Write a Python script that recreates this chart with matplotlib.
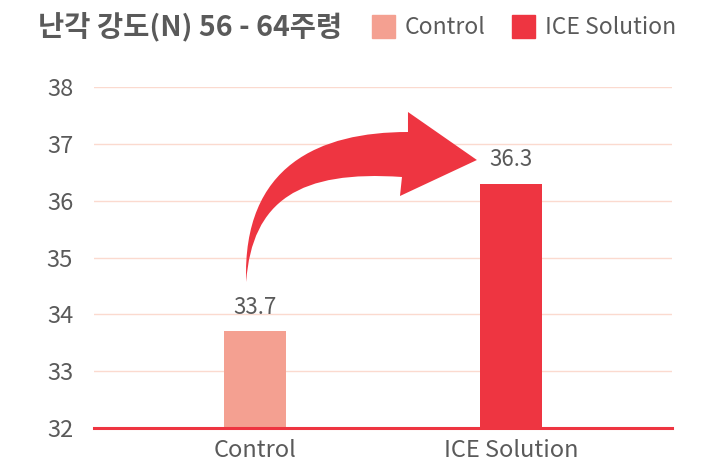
import matplotlib
matplotlib.use('Agg')
import matplotlib.pyplot as plt
from matplotlib.path import Path
from matplotlib.patches import PathPatch, Rectangle

plt.rcParams['font.family'] = ['Noto Sans CJK KR', 'DejaVu Sans']

# data
groups = ['Control', 'ICE Solution']
values = [33.7, 36.3]
y_ticks = [32, 33, 34, 35, 36, 37, 38]
title = '난각 강도(N) 56 - 64주령'

bar_colors = ['#F4A091', '#EE3541']
text_color = '#5a5a5a'
grid_color = '#FBDACF'

fig = plt.figure(figsize=(7.03, 4.65), dpi=100)
ax = fig.add_axes([94 / 703, 1 - 428 / 465, 578 / 703, 341 / 465])

x = list(range(len(groups)))
ax.bar(x, [v - y_ticks[0] for v in values], bottom=y_ticks[0], width=0.24,
       color=bar_colors, zorder=3)
for xi, v in zip(x, values):
    ax.text(xi, v + 0.22, f'{v}', ha='center', va='bottom',
            fontsize=16, color=text_color, zorder=4)

ax.set_xlim(-0.63, 1.63)
ax.set_ylim(y_ticks[0], y_ticks[-1])
ax.set_yticks(y_ticks)
ax.set_xticks(x)
ax.set_xticklabels(groups)
ax.tick_params(axis='both', length=0, labelsize=17, colors=text_color)
ax.tick_params(axis='y', pad=15)
ax.tick_params(axis='x', pad=8)
for s in ax.spines.values():
    s.set_visible(False)
ax.grid(axis='y', color=grid_color, linewidth=1, zorder=0)
ax.axhline(y_ticks[0], color=bar_colors[1], linewidth=2.2, zorder=5, clip_on=False)

# curved arrow from control to ICE (pixel layout converted to data units)
def px(p, q):
    return ((p - 255) / 256, 38 - (q - 87) / (341 / 6))

verts = [px(246, 282),
         px(242, 165), px(320, 132), px(408, 132),
         px(408, 112), px(477, 160), px(400, 196), px(402, 177),
         px(300, 170), px(252, 200), px(246, 282),
         px(246, 282)]
codes = [Path.MOVETO,
         Path.CURVE4, Path.CURVE4, Path.CURVE4,
         Path.LINETO, Path.LINETO, Path.LINETO, Path.LINETO,
         Path.CURVE4, Path.CURVE4, Path.CURVE4,
         Path.CLOSEPOLY]
ax.add_patch(PathPatch(Path(verts, codes), facecolor=bar_colors[1],
                       edgecolor='none', zorder=4))

# title and legend
fig.text(38 / 703, 1 - 27 / 465, title, fontsize=20.5, fontweight='bold',
         color=text_color, va='center', ha='left')
legend_x = [372, 512]
for lx, g, c in zip(legend_x, groups, bar_colors):
    fig.patches.append(Rectangle((lx / 703, 1 - 38 / 465), 23 / 703, 23 / 465,
                                 transform=fig.transFigure, color=c))
    fig.text((lx + 33) / 703, 1 - 27 / 465, g, fontsize=16.5, color=text_color,
             va='center', ha='left')

fig.savefig('out.png', dpi=100)
